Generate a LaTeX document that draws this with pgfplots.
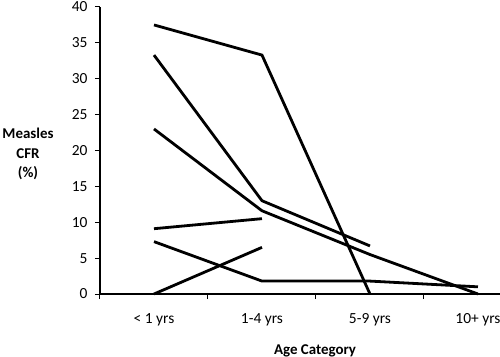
\documentclass[border=0pt]{standalone}
\usepackage{pgfplots}
\pgfplotsset{compat=1.18}
\usepackage{fontspec}
\setmainfont{Carlito}
\begin{document}
\begin{tikzpicture}
\begin{axis}[
  scale only axis,
  width=400bp, height=287bp,
  xmin=-0.5, xmax=3.204,
  ymin=0, ymax=40,
  axis x line*=bottom, axis y line*=left,
  axis line style={line width=1.2bp, black},
  clip=false,
  xtick={0,1,2,3},
  xticklabels={{< 1 yrs},{1-4 yrs},{5-9 yrs},{10+ yrs}},
  minor xtick={-0.5,0.5,1.5,2.5},
  ytick={0,5,...,40},
  tick align=outside,
  major tick length=5bp,
  minor tick length=5bp,
  major x tick style={draw=none},
  tick style={line width=1bp, black},
  every tick label/.append style={font=\fontsize{15.5}{17}\selectfont},
  /pgf/number format/assume math mode=true,
  xticklabel style={yshift=-11bp},
  yticklabel style={xshift=-4bp},
  xlabel={\textbf{Age Category}},
  xlabel style={at={(axis description cs:0.5375,-0.197)}, anchor=center, font=\fontsize{15}{17}\selectfont},
  ylabel={\textbf{Measles}\\\textbf{CFR}\\\textbf{(\%)}},
  ylabel style={rotate=-90, align=center, at={(axis description cs:-0.18,0.488)}, anchor=center, font=\fontsize{15}{20}\selectfont},
]
\addplot[black, line width=2.8bp] coordinates {(0,37.5)(1,33.3)(2,0)};
\addplot[black, line width=2.8bp] coordinates {(0,33.3)(1,13.0)(2,6.7)};
\addplot[black, line width=2.8bp] coordinates {(0,23.0)(1,11.6)(2,5.5)(3,0)};
\addplot[black, line width=2.8bp] coordinates {(0,9.1)(1,10.5)};
\addplot[black, line width=2.8bp] coordinates {(0,7.3)(1,1.8)(2,1.8)(3,1.0)};
\addplot[black, line width=2.8bp] coordinates {(0,0)(1,6.5)};
\end{axis}
\pgfresetboundingbox
\path[use as bounding box] ([shift={(-100bp,-63bp)}]current axis.south west) rectangle ([shift={(0bp,7bp)}]current axis.north east);
\end{tikzpicture}
\end{document}
